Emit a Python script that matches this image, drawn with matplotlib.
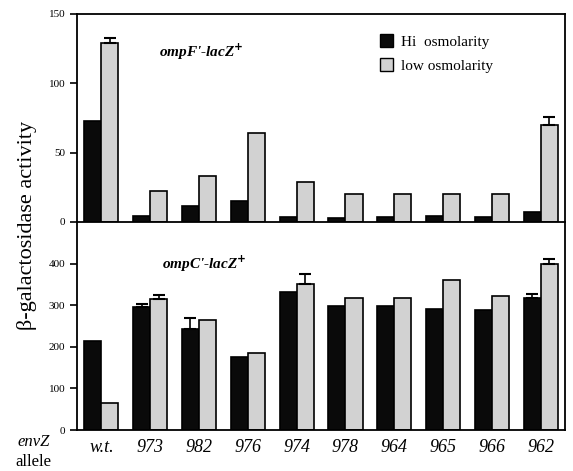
import matplotlib
matplotlib.use("Agg")
import matplotlib.pyplot as plt
import numpy as np
from matplotlib.patches import Patch

categories = ["w.t.", "973", "982", "976", "974", "978", "964", "965", "966", "962"]

ompF_hi = [73, 4.3, 11.5, 15.4, 3.6, 2.7, 3.6, 4.3, 3.4, 7.4]
ompF_low = [129, 22.6, 33.4, 64.4, 29, 20, 20, 20, 20, 70.2]
ompF_hi_err = [0, 0, 0, 0, 0, 0, 0, 0, 0, 0]
ompF_low_err = [4, 0, 0, 0, 0, 0, 0, 0, 0, 5.5]

ompC_hi = [213, 295, 243, 176, 331, 297, 297, 291, 288, 317]
ompC_low = [65, 315, 265, 184, 352, 318, 318, 361, 322, 399]
ompC_hi_err = [0, 8, 26, 0, 0, 0, 0, 0, 0, 11]
ompC_low_err = [0, 10, 0, 0, 22, 0, 0, 0, 0, 11]

plt.rcParams['font.family'] = ['Liberation Serif', 'DejaVu Serif']

fig = plt.figure(figsize=(5.73, 4.71), dpi=100)
ax1 = fig.add_axes([0.1344, 0.5287, 0.8517, 0.4416])
ax2 = fig.add_axes([0.1344, 0.0870, 0.8517, 0.4416])

x = np.arange(len(categories))
w = 0.35
hi_color = "#0a0a0a"
low_color = "#d2d2d2"

def draw(ax, hi, lo, hi_err, lo_err):
    ax.bar(x - w/2, hi, w, color=hi_color, edgecolor="black", linewidth=1.2, zorder=2)
    ax.bar(x + w/2, lo, w, color=low_color, edgecolor="black", linewidth=1.2, zorder=2)
    for xi, v, e in zip(x - w/2, hi, hi_err):
        if e > 0:
            ax.errorbar(xi, v, yerr=[[0], [e]], fmt="none", ecolor="black", elinewidth=1.2, capsize=4, capthick=1.5, zorder=3)
    for xi, v, e in zip(x + w/2, lo, lo_err):
        if e > 0:
            ax.errorbar(xi, v, yerr=[[0], [e]], fmt="none", ecolor="black", elinewidth=1.2, capsize=4, capthick=1.5, zorder=3)
    ax.set_xlim(-0.5, 9.5)
    ax.set_xticks([])
    for s in ax.spines.values():
        s.set_linewidth(1.3)
    ax.tick_params(axis="y", direction="out", length=5, width=1.2, labelsize=8)

draw(ax1, ompF_hi, ompF_low, ompF_hi_err, ompF_low_err)
draw(ax2, ompC_hi, ompC_low, ompC_hi_err, ompC_low_err)

ax1.set_ylim(0, 150)
ax1.set_yticks([0, 50, 100, 150])
ax2.set_ylim(0, 500)
ax2.set_yticks([0, 100, 200, 300, 400])
ax1.spines["bottom"].set_visible(False)

ax1.text(0.167, 0.82, "ompF'-lacZ$^{\\mathbf{+}}$", transform=ax1.transAxes, fontsize=11,
         fontweight="bold", fontstyle="italic", ha="left", va="center")
ax2.text(0.175, 0.80, "ompC'-lacZ$^{\\mathbf{+}}$", transform=ax2.transAxes, fontsize=11,
         fontweight="bold", fontstyle="italic", ha="left", va="center")

handles = [Patch(facecolor=hi_color, edgecolor="black"), Patch(facecolor=low_color, edgecolor="black")]
ax1.legend(handles, ["Hi  osmolarity", "low osmolarity"], loc="upper left",
           bbox_to_anchor=(0.592, 0.968), frameon=False, fontsize=11,
           handlelength=0.9, handleheight=0.9, handletextpad=0.5, labelspacing=0.6)

for xi, c in zip(x, categories):
    ax2.text(xi, -0.045, c, transform=ax2.get_xaxis_transform(), ha="center", va="top",
             fontsize=13, fontstyle="italic")

fig.text(0.058, 0.062, "envZ", ha="center", va="center", fontsize=12, fontstyle="italic")
fig.text(0.058, 0.02, "allele", ha="center", va="center", fontsize=12)

fig.text(0.047, 0.522, "β-galactosidase activity", rotation=90, ha="center", va="center", fontsize=16)

fig.savefig("out.png", dpi=100)
